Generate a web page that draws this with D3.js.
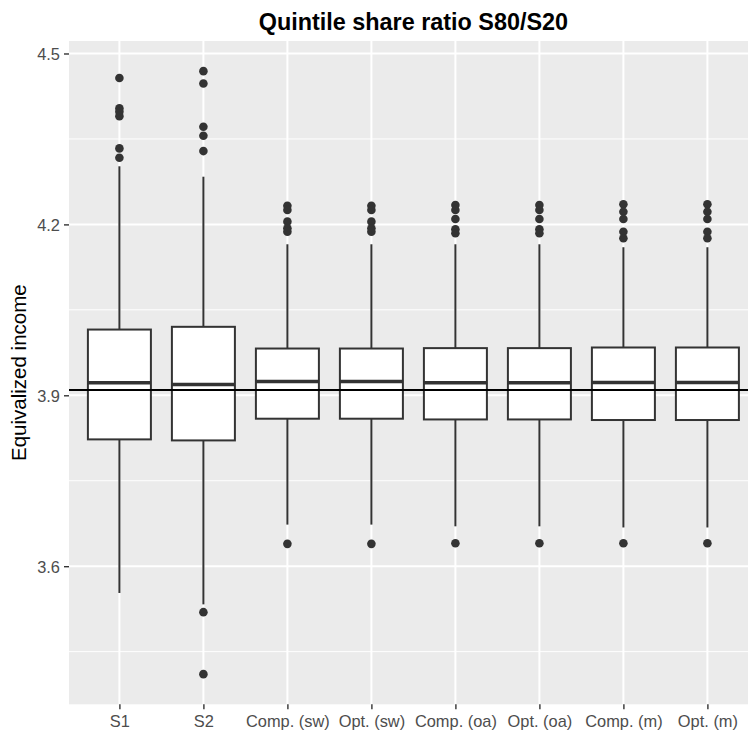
<!DOCTYPE html>
<html>
<head>
<meta charset="utf-8">
<script src="https://cdn.jsdelivr.net/npm/d3@7"></script>
<style>
  html, body { margin: 0; padding: 0; background: #ffffff; }
  svg { display: block; }
  text { font-family: "Liberation Sans", Arial, Helvetica, sans-serif; }
</style>
</head>
<body>
<svg id="chart" width="748" height="737"></svg>
<script>
// ---- Data ----
const categories = ["S1", "S2", "Comp. (sw)", "Opt. (sw)", "Comp. (oa)", "Opt. (oa)", "Comp. (m)", "Opt. (m)"];
const lowerWhisker = [3.553, 3.533, 3.673, 3.673, 3.670, 3.670, 3.668, 3.668];
const q1Values     = [3.8226, 3.8208, 3.8589, 3.8589, 3.8576, 3.8576, 3.8566, 3.8566];
const medianValues = [3.922, 3.919, 3.9243, 3.9243, 3.922, 3.922, 3.9225, 3.9225];
const q3Values     = [4.0154, 4.0202, 3.9821, 3.9821, 3.9828, 3.9828, 3.9839, 3.9839];
const upperWhisker = [4.302, 4.2837, 4.1651, 4.1651, 4.1651, 4.1651, 4.1599, 4.1599];
const outlierValues = [
  [4.457, 4.4036, 4.3976, 4.390, 4.3334, 4.317],
  [4.469, 4.4474, 4.3713, 4.3555, 4.3287, 3.5193, 3.4105],
  [4.2328, 4.2253, 4.2048, 4.1932, 4.1872, 3.6392],
  [4.2328, 4.2253, 4.2048, 4.1932, 4.1872, 3.6392],
  [4.234, 4.2253, 4.2095, 4.1914, 4.1844, 3.6403],
  [4.234, 4.2253, 4.2095, 4.1914, 4.1844, 3.6403],
  [4.2353, 4.2223, 4.2095, 4.1872, 4.1757, 3.6403],
  [4.2353, 4.2223, 4.2095, 4.1872, 4.1757, 3.6403]
];
const referenceValue = 3.9092;
const yTickValues = [3.6, 3.9, 4.2, 4.5];
const yMinorValues = [3.45, 3.75, 4.05, 4.35];
const titleText = "Quintile share ratio S80/S20";
const yTitleText = "Equivalized income";

// ---- Layout ----
const panel = { left: 69, top: 41, bottom: 704.3, right: 757.8 };
const svg = d3.select("#chart");

// y domain: data range expanded by 5% (ggplot default)
const allVals = [].concat(lowerWhisker, upperWhisker, ...outlierValues);
const [vmin, vmax] = d3.extent(allVals);
const pad = (vmax - vmin) * 0.05;
const y = d3.scaleLinear().domain([vmin - pad, vmax + pad]).range([panel.bottom, panel.top]);
const x = d3.scalePoint().domain(categories).range([panel.left, panel.right]).padding(0.6);
const boxW = x.step() * 0.75;

// Panel background
svg.append("rect")
  .attr("x", panel.left).attr("y", panel.top)
  .attr("width", panel.right - panel.left).attr("height", panel.bottom - panel.top)
  .attr("fill", "#EBEBEB");

// Grid
const grid = svg.append("g");
grid.selectAll("line.minor").data(yMinorValues).join("line")
  .attr("x1", panel.left).attr("x2", panel.right)
  .attr("y1", d => y(d)).attr("y2", d => y(d))
  .attr("stroke", "#ffffff").attr("stroke-width", 1);
grid.selectAll("line.major").data(yTickValues).join("line")
  .attr("x1", panel.left).attr("x2", panel.right)
  .attr("y1", d => y(d)).attr("y2", d => y(d))
  .attr("stroke", "#ffffff").attr("stroke-width", 2);
grid.selectAll("line.vmajor").data(categories).join("line")
  .attr("x1", d => x(d)).attr("x2", d => x(d))
  .attr("y1", panel.top).attr("y2", panel.bottom)
  .attr("stroke", "#ffffff").attr("stroke-width", 2);

// Boxplots
const boxData = categories.map((c, i) => ({
  c, lo: lowerWhisker[i], q1: q1Values[i], med: medianValues[i], q3: q3Values[i], hi: upperWhisker[i], out: outlierValues[i]
}));
const boxes = svg.append("g").selectAll("g").data(boxData).join("g");
boxes.append("line")
  .attr("x1", d => x(d.c)).attr("x2", d => x(d.c))
  .attr("y1", d => y(d.q3)).attr("y2", d => y(d.hi))
  .attr("stroke", "#333333").attr("stroke-width", 2);
boxes.append("line")
  .attr("x1", d => x(d.c)).attr("x2", d => x(d.c))
  .attr("y1", d => y(d.q1)).attr("y2", d => y(d.lo))
  .attr("stroke", "#333333").attr("stroke-width", 2);
boxes.append("rect")
  .attr("x", d => x(d.c) - boxW / 2).attr("width", boxW)
  .attr("y", d => y(d.q3)).attr("height", d => y(d.q1) - y(d.q3))
  .attr("fill", "#ffffff").attr("stroke", "#333333").attr("stroke-width", 2);
boxes.append("line")
  .attr("x1", d => x(d.c) - boxW / 2).attr("x2", d => x(d.c) + boxW / 2)
  .attr("y1", d => y(d.med)).attr("y2", d => y(d.med))
  .attr("stroke", "#333333").attr("stroke-width", 3.6);
boxes.selectAll("circle").data(d => d.out.map(v => ({ c: d.c, v }))).join("circle")
  .attr("cx", d => x(d.c)).attr("cy", d => y(d.v)).attr("r", 4.3)
  .attr("fill", "#333333");

// Reference line
svg.append("line")
  .attr("x1", panel.left).attr("x2", panel.right)
  .attr("y1", y(referenceValue)).attr("y2", y(referenceValue))
  .attr("stroke", "#000000").attr("stroke-width", 2);

// Axes
const yAxis = svg.append("g").attr("transform", `translate(${panel.left},0)`)
  .call(d3.axisLeft(y).tickValues(yTickValues).tickSize(5).tickPadding(4).tickFormat(d3.format(".1f")));
const xAxis = svg.append("g").attr("transform", `translate(0,${panel.bottom})`)
  .call(d3.axisBottom(x).tickSize(5).tickPadding(6.5));
[yAxis, xAxis].forEach(a => {
  a.select(".domain").remove();
  a.selectAll(".tick line").attr("stroke", "#333333").attr("stroke-width", 1.4);
  a.selectAll(".tick text").attr("fill", "#4D4D4D")
    .style("font-size", "16.4px").style("font-family", "'Liberation Sans', Arial, sans-serif");
});
yAxis.selectAll(".tick text").attr("dy", "0.36em");

// Titles
svg.append("text")
  .attr("x", (panel.left + panel.right) / 2).attr("y", 29.5)
  .attr("text-anchor", "middle")
  .style("font-size", "23.4px").style("font-weight", "bold").attr("fill", "#000000")
  .text(titleText);
svg.append("text")
  .attr("transform", `translate(25.5,${(panel.top + panel.bottom) / 2}) rotate(-90)`)
  .attr("text-anchor", "middle")
  .style("font-size", "20.5px").attr("fill", "#000000")
  .text(yTitleText);
</script>
</body>
</html>
